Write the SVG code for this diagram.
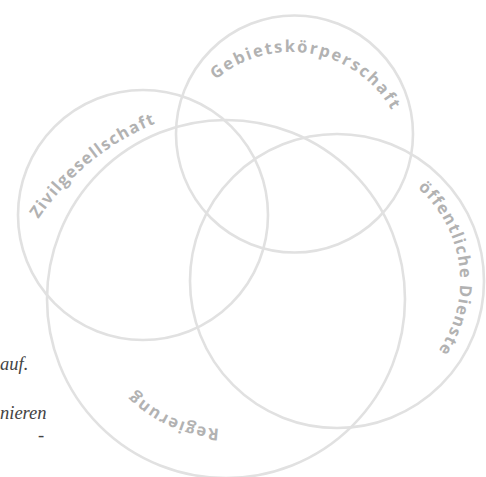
<svg xmlns="http://www.w3.org/2000/svg" width="486" height="477" viewBox="0 0 486 477">
<style>
.ring{fill:none;stroke:#e1e1e1;stroke-width:2.6}
.lbl{font-family:"Open Sans","Noto Sans",sans-serif;font-weight:700;font-size:16.5px;fill:#b2b2b2}
.body{font-family:"Liberation Serif","DejaVu Serif",serif;font-style:italic;font-size:18.5px;fill:#444444}
</style>
<defs>
<path id="pA" d="M215.7,79.8 A116,116 0 0 1 400,128.3"/>
<path id="pB" d="M38.4,219.1 A262,262 0 0 1 187.8,112.5"/>
<path id="pC" d="M417.7,188.2 A123,123 0 0 1 424,368"/>
<path id="pD" d="M219.2,428.8 A130,130 0 0 1 119.5,373.6"/>
</defs>
<rect width="486" height="477" fill="#ffffff"/>
<g id="text-left">
<text class="body" x="0" y="370">auf.</text>
<text class="body" x="0" y="419">nieren</text>
<text class="body" x="38" y="441">-</text>
</g>
<g id="connectors"></g>
<g id="gebietskoerperschaft">
<circle class="ring" cx="294.5" cy="134" r="118.5"/>
<text class="lbl" letter-spacing="1.9"><textPath href="#pA">Gebietskörperschaft</textPath></text>
</g>
<g id="zivilgesellschaft">
<circle class="ring" cx="143" cy="215" r="125"/>
<text class="lbl" letter-spacing="1.3"><textPath href="#pB">Zivilgesellschaft</textPath></text>
</g>
<g id="oeffentliche-dienste">
<circle class="ring" cx="337" cy="281" r="147"/>
<text class="lbl" letter-spacing="1.2"><textPath href="#pC">öffentliche Dienste</textPath></text>
</g>
<g id="regierung">
<circle class="ring" cx="226" cy="299" r="179"/>
<text class="lbl" letter-spacing="1.4"><textPath href="#pD">Regierung</textPath></text>
</g>
</svg>
